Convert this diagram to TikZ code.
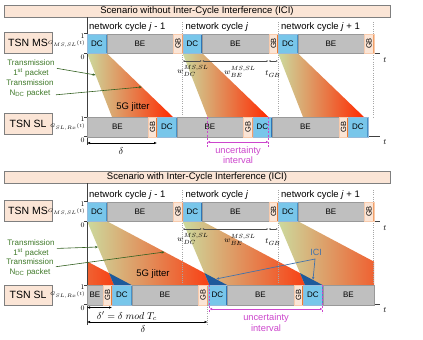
\documentclass[tikz,border=0pt]{standalone}
\usepackage{fontspec}
\setmainfont{Liberation Sans}
\usetikzlibrary{arrows.meta}

\definecolor{peach}{RGB}{251,229,214}
\definecolor{framegray}{RGB}{127,127,127}
\definecolor{dcblue}{RGB}{120,198,234}
\definecolor{dcedge}{RGB}{46,117,182}
\definecolor{begray}{RGB}{191,191,191}
\definecolor{gbedge}{RGB}{237,125,49}
\definecolor{txgreen}{RGB}{62,120,40}
\definecolor{jitgreen}{RGB}{204,218,158}
\definecolor{jitred}{RGB}{255,42,0}
\definecolor{icidark}{RGB}{30,90,155}
\definecolor{iciblue}{RGB}{68,114,170}
\definecolor{uncmag}{RGB}{204,70,204}

\newcommand*{\xaxis}{87}
\newcommand*{\xtend}{380}

\begin{document}
\begin{tikzpicture}
[
	x=1pt,y=-1pt,
	seg/.style={anchor=north west,inner sep=0pt,minimum height=19.5,font=\fontsize{8}{8}\selectfont},
	dcbox/.style={seg,draw=dcedge!50,fill=dcblue,minimum width=19.5,
		path picture={\draw[dcedge,line width=2pt] (path picture bounding box.north east) -- (path picture bounding box.south east);}},
	bebox/.style={seg,draw=gray!80,fill=begray,minimum width=66.5},
	gbbox/.style={seg,draw=gbedge!40,fill=peach,minimum width=9.5,
		label={[rotate=90,inner sep=0pt,font=\fontsize{7.5}{8}\selectfont]center:GB},
		path picture={\draw[gbedge,line width=2pt] (path picture bounding box.north east) -- (path picture bounding box.south east);}},
	titlebox/.style={draw=framegray,fill=peach,minimum width=386,minimum height=12,inner sep=0pt,font=\fontsize{9.5}{10}\selectfont},
	tsnbox/.style={draw=framegray,fill=peach,minimum width=48,minimum height=20.5,inner sep=0pt,font=\fontsize{10.5}{12}\selectfont},
	cyclab/.style={anchor=west,inner sep=0pt,font=\fontsize{9.5}{10}\selectfont},
	lvl/.style={inner sep=0pt,font=\fontsize{7}{8}\selectfont},
	glab/.style={anchor=east,inner sep=0pt,font=\fontsize{5.5}{6}\selectfont},
	wlab/.style={inner sep=0pt,font=\fontsize{8.5}{9}\selectfont},
	deltlab/.style={inner sep=0pt,font=\fontsize{10}{11}\selectfont},
	txlab/.style={align=center,inner sep=0pt,text=txgreen,font=\fontsize{8}{10}\selectfont},
	txarrow/.style={txgreen!80!black,line width=0.6pt,shorten <=2pt,-{Stealth[length=3pt,width=2.4pt]}},
	jitshade/.style={left color=jitgreen,right color=jitred},
	jitlab/.style={inner sep=0pt,font=\fontsize{9.5}{10}\selectfont},
	axisline/.style={black!75,line width=0.6pt},
	cycline/.style={gray!70,line width=0.5pt,dash pattern=on 1pt off 1.2pt},
	dimline/.style={black!70,line width=0.4pt,{Latex[length=2pt,width=1.6pt]}-{Latex[length=2pt,width=1.6pt]}},
	uncline/.style={uncmag,line width=0.6pt,dash pattern=on 2pt off 1.5pt},
	uncarrow/.style={uncmag,line width=0.6pt,{Latex[length=2.5pt,width=2.5pt]}-{Latex[length=2.5pt,width=2.5pt]}},
	unclab/.style={align=center,inner sep=0pt,text=uncmag,font=\fontsize{9.3}{10.5}\selectfont},
	deltarrow/.style={black,line width=0.5pt,{Latex[length=3pt,width=2.5pt]}-{Latex[length=3pt,width=2.5pt]}},
	icilab/.style={inner sep=0pt,text=iciblue,font=\fontsize{9}{10}\selectfont},
	iciarrow/.style={iciblue,line width=0.7pt,{Latex[length=3pt,width=2.5pt]}-{Latex[length=3pt,width=2.5pt]}}
]

	\useasboundingbox (0,0) rectangle (423,340);

	% ===== scenario without ICI =====
	\node[titlebox] (titlea) at (197,11) {Scenario without Inter-Cycle Interference (ICI)};

	% jitter areas
	\shade[jitshade] (87,53) -- (106.5,53) -- (173,117) -- (112,117) -- cycle;
	\shade[jitshade] (182.5,53) -- (202,53) -- (268.5,117) -- (207.5,117) -- cycle;
	\shade[jitshade] (278,53) -- (297.5,53) -- (364,117) -- (303,117) -- cycle;
	\node[jitlab] (jita) at (133,107) {5G jitter};

	% cycle borders
	\draw[cycline] (182.5,22) -- (182.5,117);
	\draw[cycline] (278,22) -- (278,117);
	\draw[cycline] (373.5,22) -- (373.5,117);

	\node[tsnbox] (tsnmsa) at (28,42.5) {TSN MS};
	\node[tsnbox] (tsnsla) at (28,123.5) {TSN SL};

	% axes
	\draw[axisline] (\xaxis,17) -- (\xaxis,145);
	\draw[axisline] (84,53) -- (\xtend,53);
	\draw[axisline] (84,136.5) -- (\xtend,136.5);
	\draw[axisline] (84,33.5) -- (\xaxis,33.5);
	\draw[axisline] (84,117) -- (\xaxis,117);
	\node[wlab] (tmsa) at (385,60) {$t$};
	\node[wlab] (tsla) at (385,142) {$t$};
	\node[lvl] (msonea) at (82.5,36) {$1$};
	\node[lvl] (mszeroa) at (82.5,57) {$0$};
	\node[lvl] (slonea) at (82.5,119) {$1$};
	\node[lvl] (slzeroa) at (82.5,140) {$0$};
	\node[glab] (gmsa) at (85,44) {$G_{MS,SL}(t)$};
	\node[glab] (gsla) at (85,127) {$G_{SL,Rx}(t)$};

	\node[cyclab] (cyca1) at (89,27) {network cycle \textit{j} - 1};
	\node[cyclab] (cyca2) at (185.5,27) {network cycle \textit{j}};
	\node[cyclab] (cyca3) at (281,27) {network cycle \textit{j} + 1};

	% MS schedule
	\node[dcbox] (msadc1) at (87,33.5) {DC};
	\node[bebox] (msabe1) at (106.5,33.5) {BE};
	\node[gbbox] (msagb1) at (173,33.5) {};
	\node[dcbox] (msadc2) at (182.5,33.5) {DC};
	\node[bebox] (msabe2) at (202,33.5) {BE};
	\node[gbbox] (msagb2) at (268.5,33.5) {};
	\node[dcbox] (msadc3) at (278,33.5) {DC};
	\node[bebox] (msabe3) at (297.5,33.5) {BE};
	\node[gbbox] (msagb3) at (364,33.5) {};

	% SL schedule
	\node[bebox,minimum width=60.5] (slabe0) at (87,117) {BE};
	\node[gbbox] (slagb1) at (147.5,117) {};
	\node[dcbox] (sladc1) at (157,117) {DC};
	\node[bebox] (slabe1) at (176.5,117) {BE};
	\node[gbbox] (slagb2) at (243,117) {};
	\node[dcbox] (sladc2) at (252.5,117) {DC};
	\node[bebox] (slabe2) at (272,117) {BE};
	\node[gbbox] (slagb3) at (338.5,117) {};
	\node[dcbox] (sladc3) at (348,117) {DC};

	% windows
	\coordinate (wa0) at (182.5,61);
	\coordinate (wa1) at (202,61);
	\coordinate (wa2) at (268.5,61);
	\coordinate (wa3) at (278,61);
	\draw[dimline] (wa0) -- (wa1);
	\draw[dimline] (wa1) -- (wa2);
	\draw[dimline] (wa2) -- (wa3);
	\node[wlab] (wdca) at (193,71) {$w_{DC}^{MS,SL}$};
	\node[wlab] (wbea) at (240,72) {$w_{BE}^{MS,SL}$};
	\node[wlab] (tgba) at (273,74) {$t_{GB}$};

	% transmissions
	\node[txlab] (txfirsta) at (31,68) {Transmission\\1\textsuperscript{st} packet};
	\node[txlab] (txlasta) at (30,88) {Transmission\\N\textsubscript{DC} packet};
	\coordinate (txfirstatip) at (95.6,75);
	\coordinate (txlastatip) at (141.8,87);
	\draw[txarrow] (txfirsta.east) -- (txfirstatip);
	\draw[txarrow] ([yshift=-7pt]txlasta.east) -- (txlastatip);

	% uncertainty interval
	\coordinate (unca1) at (207.5,117);
	\coordinate (unca2) at (207.5,147);
	\coordinate (unca3) at (268.5,117);
	\coordinate (unca4) at (268.5,147);
	\draw[uncline] (unca1) -- (unca2);
	\draw[uncline] (unca3) -- (unca4);
	\coordinate (uncal) at (207.5,142);
	\coordinate (uncar) at (268.5,142);
	\draw[uncarrow] (uncal) -- (uncar);
	\node[unclab] (uncta) at (238,155) {uncertainty\\interval};

	% offset
	\coordinate (dela1) at (87,143);
	\coordinate (dela2) at (157,143);
	\draw[deltarrow] (dela1) -- (dela2);
	\node[deltlab] (dellaba) at (121,151) {$\delta$};

	% ===== scenario with ICI =====
	\begin{scope}[shift={(0,168)}]
	\node[titlebox] (titleb) at (197,9) {Scenario with Inter-Cycle Interference (ICI)};

	% jitter areas
	\begin{scope}
		\clip (87,53) rectangle (374,117);
		\shade[jitshade] (-8.5,53) -- (11,53) -- (131.5,117) -- (18.5,117) -- cycle;
		\shade[jitshade] (87,53) -- (106.5,53) -- (227,117) -- (114,117) -- cycle;
		\shade[jitshade] (182.5,53) -- (202,53) -- (322.5,117) -- (209.5,117) -- cycle;
		\shade[jitshade] (278,53) -- (297.5,53) -- (418,117) -- (305,117) -- cycle;
	\end{scope}
	% overlap of consecutive cycles
	\begin{scope}
		\clip (87,53) -- (106.5,53) -- (227,117) -- (114,117) -- cycle;
		\fill[icidark] (-8.5,53) -- (11,53) -- (131.5,117) -- (18.5,117) -- cycle;
	\end{scope}
	\begin{scope}
		\clip (182.5,53) -- (202,53) -- (322.5,117) -- (209.5,117) -- cycle;
		\fill[icidark] (87,53) -- (106.5,53) -- (227,117) -- (114,117) -- cycle;
	\end{scope}
	\begin{scope}
		\clip (278,53) -- (297.5,53) -- (418,117) -- (305,117) -- cycle;
		\fill[icidark] (182.5,53) -- (202,53) -- (322.5,117) -- (209.5,117) -- cycle;
	\end{scope}
	\node[jitlab] (jitb) at (153,106) {5G jitter};

	% cycle borders
	\draw[cycline] (182.5,22) -- (182.5,117);
	\draw[cycline] (278,22) -- (278,117);
	\draw[cycline] (373.5,22) -- (373.5,117);

	\node[tsnbox] (tsnmsb) at (28,42.5) {TSN MS};
	\node[tsnbox] (tsnslb) at (28,127) {TSN SL};

	% axes
	\draw[axisline] (\xaxis,15) -- (\xaxis,157);
	\draw[axisline] (84,53) -- (\xtend,53);
	\draw[axisline] (84,136.5) -- (\xtend,136.5);
	\draw[axisline] (84,33.5) -- (\xaxis,33.5);
	\draw[axisline] (84,117) -- (\xaxis,117);
	\node[wlab] (tmsb) at (385,60) {$t$};
	\node[wlab] (tslb) at (385,142) {$t$};
	\node[lvl] (msoneb) at (82.5,36) {$1$};
	\node[lvl] (mszerob) at (82.5,57) {$0$};
	\node[lvl] (sloneb) at (82.5,119) {$1$};
	\node[lvl] (slzerob) at (82.5,140) {$0$};
	\node[glab] (gmsb) at (85,44) {$G_{MS,SL}(t)$};
	\node[glab] (gslb) at (85,127) {$G_{SL,Rx}(t)$};

	\node[cyclab] (cycb1) at (89,27) {network cycle \textit{j} - 1};
	\node[cyclab] (cycb2) at (185.5,27) {network cycle \textit{j}};
	\node[cyclab] (cycb3) at (281,27) {network cycle \textit{j} + 1};

	% MS schedule
	\node[dcbox] (msbdc1) at (87,33.5) {DC};
	\node[bebox] (msbbe1) at (106.5,33.5) {BE};
	\node[gbbox] (msbgb1) at (173,33.5) {};
	\node[dcbox] (msbdc2) at (182.5,33.5) {DC};
	\node[bebox] (msbbe2) at (202,33.5) {BE};
	\node[gbbox] (msbgb2) at (268.5,33.5) {};
	\node[dcbox] (msbdc3) at (278,33.5) {DC};
	\node[bebox] (msbbe3) at (297.5,33.5) {BE};
	\node[gbbox] (msbgb3) at (364,33.5) {};

	% SL schedule
	\node[bebox,minimum width=15.5] (slbbe0) at (87,117) {BE};
	\node[gbbox] (slbgb1) at (102.5,117) {};
	\node[dcbox] (slbdc1) at (112,117) {DC};
	\node[bebox] (slbbe1) at (131.5,117) {BE};
	\node[gbbox] (slbgb2) at (198,117) {};
	\node[dcbox] (slbdc2) at (207.5,117) {DC};
	\node[bebox] (slbbe2) at (227,117) {BE};
	\node[gbbox] (slbgb3) at (293.5,117) {};
	\node[dcbox] (slbdc3) at (303,117) {DC};
	\node[bebox,minimum width=51.5] (slbbe3) at (322.5,117) {BE};

	% windows
	\coordinate (wb0) at (182.5,61);
	\coordinate (wb1) at (202,61);
	\coordinate (wb2) at (268.5,61);
	\coordinate (wb3) at (278,61);
	\draw[dimline] (wb0) -- (wb1);
	\draw[dimline] (wb1) -- (wb2);
	\draw[dimline] (wb2) -- (wb3);
	\node[wlab] (wdcb) at (193,71) {$w_{DC}^{MS,SL}$};
	\node[wlab] (wbeb) at (240,72) {$w_{BE}^{MS,SL}$};
	\node[wlab] (tgbb) at (273,74) {$t_{GB}$};

	% transmissions
	\node[txlab] (txfirstb) at (31,80.5) {Transmission\\1\textsuperscript{st} packet};
	\node[txlab] (txlastb) at (30,99) {Transmission\\N\textsubscript{DC} packet};
	\coordinate (txfirstbtip) at (98,79);
	\coordinate (txlastbtip) at (164.5,84);
	\draw[txarrow] (txfirstb.east) -- (txfirstbtip);
	\draw[txarrow] (txlastb.east) -- (txlastbtip);

	% inter-cycle interference
	\node[icilab] (ici) at (316,84) {ICI};
	\coordinate (icibranch) at (315,91);
	\coordinate (icitipa) at (216,111);
	\coordinate (icitipb) at (313,112);
	\draw[iciarrow] (icitipa) -- (icibranch) -- (icitipb);

	% uncertainty interval
	\coordinate (uncb1) at (209.5,117);
	\coordinate (uncb2) at (209.5,145);
	\coordinate (uncb3) at (322.5,117);
	\coordinate (uncb4) at (322.5,145);
	\draw[uncline] (uncb1) -- (uncb2);
	\draw[uncline] (uncb3) -- (uncb4);
	\coordinate (uncbl) at (209.5,141);
	\coordinate (uncbr) at (322.5,141);
	\draw[uncarrow] (uncbl) -- (uncbr);
	\node[unclab] (unctb) at (266,154.5) {uncertainty\\interval};

	% offsets
	\coordinate (delb1) at (87,139.5);
	\coordinate (delb2) at (112,139.5);
	\draw[deltarrow] (delb1) -- (delb2);
	\node[deltlab] (delmodb) at (127,148) {$\delta' = \delta\ mod\ T_c$};
	\coordinate (delb3) at (87,154);
	\coordinate (delb4) at (207.5,154);
	\draw[cycline] (207.5,136.5) -- (207.5,157);
	\draw[deltarrow] (delb3) -- (delb4);
	\node[deltlab] (dellabb) at (143,161.5) {$\delta$};
	\end{scope}

\end{tikzpicture}
\end{document}
